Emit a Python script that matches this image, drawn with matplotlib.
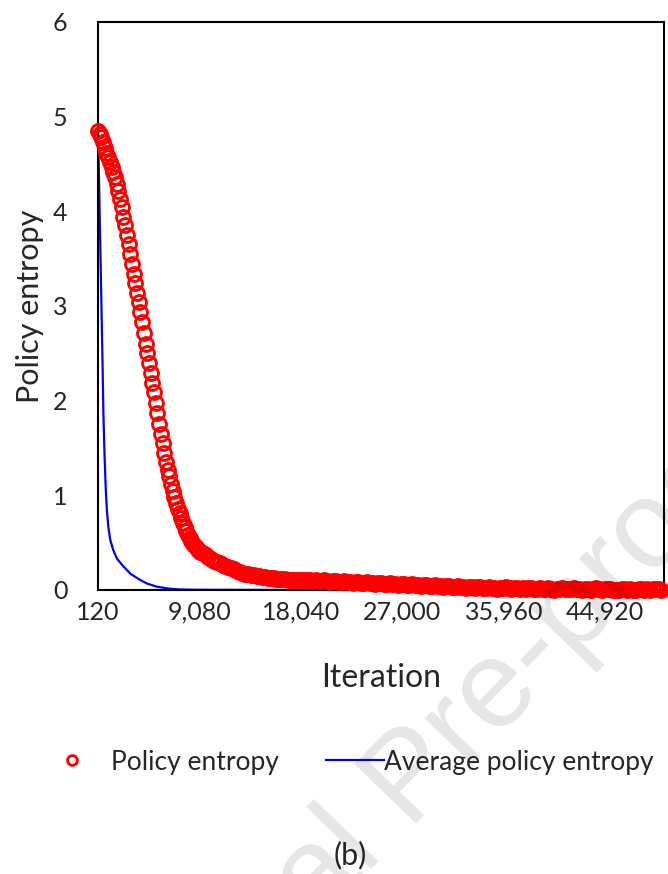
import matplotlib
matplotlib.use("Agg")
import matplotlib.pyplot as plt
import numpy as np

plt.rcParams["font.family"] = ["Lato", "DejaVu Sans"]

# policy entropy, steep part (every 150 iterations from 120)
red_iter_a = np.arange(120, 9121, 150)
red_val_a = [
    4.85, 4.82, 4.78, 4.73, 4.67, 4.62, 4.57, 4.52, 4.47, 4.42,
    4.36, 4.29, 4.21, 4.13, 4.04, 3.94, 3.85, 3.75, 3.65, 3.55,
    3.44, 3.34, 3.24, 3.14, 3.04, 2.94, 2.83, 2.71, 2.60, 2.50,
    2.40, 2.29, 2.19, 2.09, 1.98, 1.87, 1.75, 1.65, 1.55, 1.45,
    1.35, 1.27, 1.20, 1.12, 1.05, 0.98, 0.92, 0.86, 0.81, 0.76,
    0.71, 0.66, 0.62, 0.58, 0.55, 0.52, 0.49, 0.46, 0.44, 0.42,
    0.40,
]
# policy entropy, tail (every 250 iterations)
red_iter_b = np.arange(9370, 49871, 250)
red_val_b = [
    0.39, 0.37, 0.35, 0.33, 0.31, 0.29, 0.28, 0.26, 0.25, 0.24,
    0.23, 0.22, 0.20, 0.19, 0.18, 0.17, 0.17, 0.16, 0.16, 0.15,
    0.15, 0.14, 0.14, 0.13, 0.13, 0.13, 0.12, 0.12, 0.12, 0.12,
    0.11, 0.11, 0.11, 0.11, 0.10, 0.11, 0.10, 0.10, 0.10, 0.09,
    0.10, 0.09, 0.09, 0.10, 0.09, 0.08, 0.09, 0.09, 0.08, 0.08,
    0.09, 0.08, 0.08, 0.07, 0.08, 0.08, 0.07, 0.07, 0.08, 0.07,
    0.07, 0.06, 0.07, 0.07, 0.06, 0.06, 0.07, 0.06, 0.06, 0.05,
    0.06, 0.06, 0.05, 0.05, 0.06, 0.05, 0.05, 0.04, 0.05, 0.05,
    0.04, 0.04, 0.05, 0.04, 0.04, 0.03, 0.04, 0.04, 0.03, 0.03,
    0.04, 0.03, 0.03, 0.02, 0.03, 0.03, 0.02, 0.03, 0.03, 0.02,
    0.02, 0.03, 0.02, 0.02, 0.01, 0.02, 0.02, 0.03, 0.02, 0.01,
    0.02, 0.02, 0.01, 0.02, 0.01, 0.02, 0.02, 0.01, 0.01, 0.02,
    0.01, 0.01, 0.02, 0.01, 0.00, 0.01, 0.01, 0.02, 0.01, 0.01,
    0.01, 0.02, 0.01, 0.01, 0.00, 0.01, 0.01, 0.00, 0.01, 0.02,
    0.01, 0.00, 0.01, 0.01, 0.01, 0.00, 0.00, 0.00, 0.01, 0.01,
    0.00, 0.01, 0.00, 0.00, 0.01, 0.01, 0.00, 0.01, 0.00, 0.01,
    0.01, 0.01, 0.00,
]

# average policy entropy
blue_iter = [120, 200, 280, 360, 440, 520, 600, 700, 800, 900,
             1030, 1200, 1470, 1800, 2350, 3000, 3830, 4500, 5300, 6300,
             7360, 9000, 12000, 20000, 30000, 40000, 50080]
blue_val = [4.85, 4.40, 3.90, 3.40, 2.90, 2.40, 1.85, 1.42, 1.08, 0.85,
            0.67, 0.53, 0.42, 0.33, 0.25, 0.17, 0.106, 0.065, 0.035, 0.015,
            0.005, 0.002, 0.001, 0.0, 0.0, 0.0, 0.0]

x_ticks = [120, 9080, 18040, 27000, 35960, 44920]
y_ticks = [0, 1, 2, 3, 4, 5, 6]

TEXT = "#262626"

fig = plt.figure(figsize=(6.68, 8.74), dpi=100)
ax = fig.add_axes([0.1467, 0.325, 0.847, 0.6499])

blue_line, = ax.plot(blue_iter, blue_val, color="#0000ff", lw=1.6,
                     label="Average policy entropy", zorder=2)
red_iter = np.concatenate([red_iter_a, red_iter_b])
red_val = np.concatenate([red_val_a, red_val_b])
red_pts, = ax.plot(red_iter, red_val, ls="none", marker="o", ms=10,
                   mfc="none", mec="#ff0000", mew=2.1, clip_on=False,
                   label="Policy entropy", zorder=3)

ax.set_xlim(120, 50080)
ax.set_ylim(0, 6)
ax.set_xticks(x_ticks)
ax.set_xticklabels([f"{v:,}" for v in x_ticks])
ax.set_yticks(y_ticks)
ax.tick_params(axis="both", length=0, labelsize=18, colors=TEXT)
ax.tick_params(axis="x", pad=8)
ax.tick_params(axis="y", pad=22)
for s in ax.spines.values():
    s.set_color("black")
    s.set_linewidth(1.5)

ax.set_xlabel("Iteration", fontsize=23, color=TEXT, labelpad=28)
ax.set_ylabel("Policy entropy", fontsize=22, color=TEXT, labelpad=6)

leg1 = fig.legend(handles=[red_pts], loc="center left", frameon=False,
                  bbox_to_anchor=(0.032, 0.128), fontsize=19,
                  handlelength=2.0, handletextpad=0.5, markerscale=0.7,
                  labelcolor=TEXT)
leg2 = fig.legend(handles=[blue_line], loc="center left", frameon=False,
                  bbox_to_anchor=(0.452, 0.128), fontsize=19,
                  handlelength=2.2, handletextpad=0.0, labelcolor=TEXT)

fig.text(0.524, 0.022, "(b)", fontsize=22, color=TEXT, ha="center", va="center")

# faint watermark running up to the right
fig.text(100 / 668, 1 - 1150 / 874, "Journal Pre-proof", fontsize=90,
         rotation=46, rotation_mode="anchor", ha="left", va="baseline",
         family="Liberation Sans", color="black", alpha=0.1, zorder=10)

fig.savefig("out.png", dpi=100)
